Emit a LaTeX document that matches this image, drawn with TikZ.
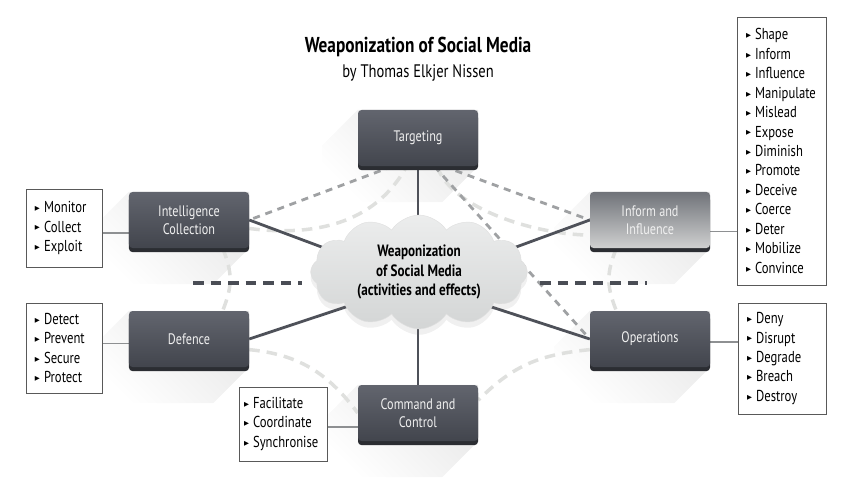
\documentclass[tikz,border=0pt]{standalone}
\usepackage{fontspec}
\setmainfont{PT Sans}[FakeStretch=0.8]
\newfontfamily\symfont{DejaVu Sans}
\usetikzlibrary{positioning,shapes.symbols,shadows,backgrounds}

\definecolor{boxtop}{HTML}{62656E}
\definecolor{boxbot}{HTML}{42454D}
\definecolor{boxedge}{HTML}{2B2D32}
\definecolor{infotop}{HTML}{707379}
\definecolor{infobot}{HTML}{CFD0D0}
\definecolor{spokegrey}{HTML}{4E5159}
\definecolor{midgrey}{HTML}{9FA1A3}
\definecolor{lightgrey}{HTML}{DFE0DE}
\definecolor{splitgrey}{HTML}{4A4D55}
\definecolor{listgrey}{HTML}{8E9092}
\definecolor{cloudtop}{HTML}{ECEDED}
\definecolor{cloudbot}{HTML}{D3D5D5}

\newcommand{\bul}{{\symfont\fontsize{5.5}{5.5}\selectfont\raisebox{1.8pt}{▶}}\hspace{3.5pt}}

\tikzset{
        % Activity boxes
        act_box/.style={rectangle, rounded corners=3pt, minimum width=3.6cm, minimum height=1.68cm, align=center, text=white!94!black, font=\fontsize{13}{15.5}\selectfont, top color=boxtop, bottom color=boxbot, general shadow={shadow yshift=-3.5pt, fill=boxedge}},
        % Lighter activity box
        act_box_light/.style={act_box, top color=infotop, bottom color=infobot},
        % Lists of effects
        effect_list/.style={rectangle, draw=black!65, line width=0.8pt, fill=white, align=left, inner xsep=0.27cm, font={\fontsize{13.5}{16.6}\selectfont\hyphenpenalty=10000\relax}},
        % Centre cloud
        media_cloud/.style={cloud, cloud puffs=12, cloud puff arc=115, aspect=1.9, minimum width=6.5cm, minimum height=3.4cm, inner sep=0pt, top color=cloudtop, bottom color=cloudbot, draw=black!12, align=center, font=\bfseries\fontsize{14}{16.3}\selectfont, drop shadow={opacity=0.12, shadow xshift=0pt, shadow yshift=-5pt}},
        % Connectors
        spoke/.style={draw=spokegrey, line width=2.4pt},
        list_link/.style={draw=listgrey, line width=1.2pt},
        target_link/.style={draw=midgrey, line width=2.4pt, dash pattern=on 6pt off 5pt},
        ring_link/.style={draw=lightgrey, line width=3pt, dash pattern=on 9pt off 6pt},
        split_line/.style={draw=splitgrey, line width=2.6pt, dash pattern=on 9pt off 6pt},
        long_shade/.style={top color=black!9, bottom color=white, shading angle=-45}
}

\begin{document}
\begin{tikzpicture}[x=0.03cm, y=-0.03cm]
    \useasboundingbox (0,0) rectangle (850,484);

    \node[align=center, font=\fontsize{15.5}{21}\selectfont] (title) at (418,59)
        {\fontsize{18.4}{21}\selectfont\textbf{Weaponization of Social Media}\\by Thomas Elkjer Nissen};

    % activities
    \node[act_box] (tg) at (418,138) {Targeting};
    \node[act_box] (ic) at (189,220) {Intelligence\\Collection};
    \node[act_box_light] (ii) at (650,220) {Inform and\\Influence};
    \node[act_box] (df) at (189,339) {Defence};
    \node[act_box] (op) at (650,339) {Operations};
    \node[act_box] (cc) at (418,413) {Command and\\Control};

    \node[media_cloud] (wsm) at (419,272) {Weaponization\\of Social Media\\(activities and effects)};
    \coordinate (hub) at (418,283);

    % effects
    \node[effect_list, text width=1.74cm, minimum height=2.34cm] (ic_list) at (64,228)
        {\bul Monitor\\\bul Collect\\\bul Exploit};
    \node[effect_list, text width=1.74cm, minimum height=2.7cm] (df_list) at (64,348)
        {\bul Detect\\\bul Prevent\\\bul Secure\\\bul Protect};
    \node[effect_list, text width=2.34cm, inner xsep=0.15cm, minimum height=2.22cm] (cc_list) at (283,424)
        {\bul Facilitate\\\bul Coordinate\\\bul Synchronise};
    \node[effect_list, text width=2.1cm, minimum height=3.33cm] (op_list) at (782,358.5)
        {\bul Deny\\\bul Disrupt\\\bul Degrade\\\bul Breach\\\bul Destroy};
    \node[effect_list, text width=2.13cm, minimum height=8.04cm] (ii_list) at (781.5,151)
        {\bul Shape\\\bul Inform\\\bul Influence\\\bul Manipulate\\\bul Mislead\\\bul Expose\\\bul Diminish\\\bul Promote\\\bul Deceive\\\bul Coerce\\\bul Deter\\\bul Mobilize\\\bul Convince};

    \coordinate (split_w1) at (193,283);
    \coordinate (split_w2) at (302,283);
    \coordinate (split_e1) at (540,283);
    \coordinate (split_e2) at (647,283);

    \begin{scope}[on background layer]
        % long shadows
        \foreach \b in {tg,ic,ii,df,op,cc}
            \path[long_shade] (\b.north east) -- (\b.north west) -- ([shift={(-36,36)}]\b.north west)
                -- ([shift={(-36,36)}]\b.south west) -- ([shift={(-36,36)}]\b.south east) -- (\b.south east) -- cycle;

        % ring of light dashes
        \draw[ring_link] (ic.352) .. controls +(62,8) and +(-32,59) .. (tg.248);
        \draw[ring_link] (tg.304) .. controls +(15,44) and +(-50,0) .. (ii.194);
        \draw[ring_link] (ic.320) .. controls +(10,25) and +(10,-25) .. (df.40);
        \draw[ring_link] (ii.220) .. controls +(-10,25) and +(-10,-25) .. (op.140);
        \draw[ring_link] (df.350) .. controls +(50,5) and +(-30,-40) .. (cc.west);
        \draw[ring_link] (op.190) .. controls +(-50,5) and +(35,-35) .. (cc.12);

        % targeting links
        \draw[target_link] (tg.228) -- (ic.east);
        \draw[target_link] (tg.312) -- (ii.west);
        \draw[target_link] (tg.300) -- (op.west);

        \draw[split_line] (split_w1) -- (split_w2);
        \draw[split_line] (split_e1) -- (split_e2);

        % spokes
        \draw[spoke] (hub) -- (tg.south);
        \draw[spoke] (hub) -- (ic.east);
        \draw[spoke] (hub) -- (ii.west);
        \draw[spoke] (hub) -- (df.east);
        \draw[spoke] (hub) -- (op.west);
        \draw[spoke] (hub) -- (cc.north);

        % list links
        \draw[list_link] (ic.192) -- (ic.192 -| ic_list.east);
        \draw[list_link] (df.184) -- (df.184 -| df_list.east);
        \draw[list_link] (cc.193) -- (cc.193 -| cc_list.east);
        \draw[list_link] (op.357) -- (op.357 -| op_list.west);
        \draw[list_link] (ii.349) -- (ii.349 -| ii_list.west);
    \end{scope}
\end{tikzpicture}
\end{document}
